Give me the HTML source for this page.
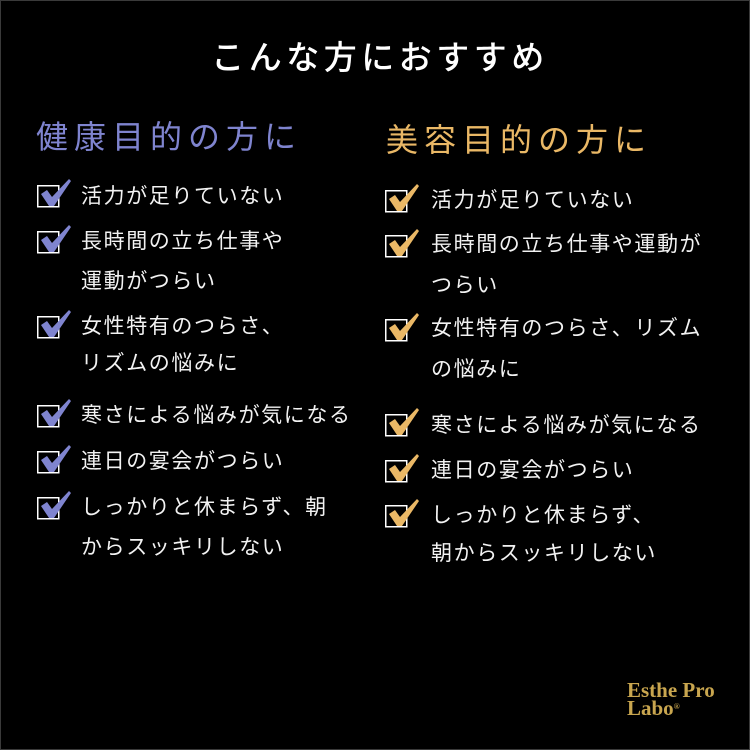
<!DOCTYPE html>
<html><head><meta charset="utf-8"><style>
body{margin:0;background:#000;}
#c{position:relative;width:750px;height:750px;background:#000;overflow:hidden;box-sizing:border-box;border:1px solid #3a3a3a;font-family:"Liberation Sans","Noto Sans CJK JP",sans-serif;color:#fff;}
.t{position:absolute;white-space:nowrap;line-height:1;}
.item{font-size:21px;color:#f2f2f2;letter-spacing:1.6px;}
</style></head><body><div id="c">
<div class="t" style="left:4px;width:750px;text-align:center;top:40px;font-size:33px;letter-spacing:4.5px;font-weight:500;">こんな方におすすめ</div>
<div class="t" style="left:35px;top:120px;font-size:32px;color:#7f84cf;letter-spacing:6px;">健康目的の方に</div>
<div class="t" style="left:385px;top:123px;font-size:32px;color:#eab866;letter-spacing:6px;">美容目的の方に</div>

<svg width="750" height="750" style="position:absolute;left:0;top:0">
<g fill="none" stroke="#fff" stroke-width="1.5">
<rect x="36.75" y="184.75" width="21" height="21"/>
<rect x="36.75" y="230.75" width="21" height="21"/>
<rect x="36.75" y="315.75" width="21" height="21"/>
<rect x="36.75" y="404.75" width="21" height="21"/>
<rect x="36.75" y="450.75" width="21" height="21"/>
<rect x="36.75" y="496.75" width="21" height="21"/>
<rect x="384.75" y="189.75" width="21" height="21"/>
<rect x="384.75" y="234.75" width="21" height="21"/>
<rect x="384.75" y="318.75" width="21" height="21"/>
<rect x="384.75" y="413.75" width="21" height="21"/>
<rect x="384.75" y="459.75" width="21" height="21"/>
<rect x="384.75" y="504.75" width="21" height="21"/>
</g>
<g fill="#7f84cf">
<path id="ck" d="M40 193 L46 189 L51 196 L68 178 L70 180 L53 205 L48 205 Z"/>
<use href="#ck" y="46"/><use href="#ck" y="131"/><use href="#ck" y="220"/><use href="#ck" y="266"/><use href="#ck" y="312"/>
</g>
<g fill="#eab866">
<use href="#ck" x="348" y="5"/><use href="#ck" x="348" y="50"/><use href="#ck" x="348" y="134"/><use href="#ck" x="348" y="229"/><use href="#ck" x="348" y="275"/><use href="#ck" x="348" y="320"/>
</g>
</svg>

<div class="t item" style="left:80px;top:185px">活力が足りていない</div>
<div class="t item" style="left:80px;top:230px">長時間の立ち仕事や</div>
<div class="t item" style="left:80px;top:270px">運動がつらい</div>
<div class="t item" style="left:80px;top:315px">女性特有のつらさ、</div>
<div class="t item" style="left:80px;top:352px">リズムの悩みに</div>
<div class="t item" style="left:80px;top:404px">寒さによる悩みが気になる</div>
<div class="t item" style="left:80px;top:450px">連日の宴会がつらい</div>
<div class="t item" style="left:80px;top:496px">しっかりと休まらず、朝</div>
<div class="t item" style="left:80px;top:536px">からスッキリしない</div>

<div class="t item" style="left:430px;top:189px">活力が足りていない</div>
<div class="t item" style="left:430px;top:233px">長時間の立ち仕事や運動が</div>
<div class="t item" style="left:430px;top:274px">つらい</div>
<div class="t item" style="left:430px;top:317px">女性特有のつらさ、リズム</div>
<div class="t item" style="left:430px;top:358px">の悩みに</div>
<div class="t item" style="left:430px;top:414px">寒さによる悩みが気になる</div>
<div class="t item" style="left:430px;top:459px">連日の宴会がつらい</div>
<div class="t item" style="left:430px;top:504px">しっかりと休まらず、</div>
<div class="t item" style="left:430px;top:542px">朝からスッキリしない</div>

<div class="t" style="left:626px;top:679px;font-family:'Liberation Serif',serif;font-weight:bold;font-size:21px;color:#c9a64f;">Esthe Pro</div>
<div class="t" style="left:626px;top:697px;font-family:'Liberation Serif',serif;font-weight:bold;font-size:21px;color:#c9a64f;">Labo<span style="font-size:8px;vertical-align:6px">®</span></div>
</div></body></html>
